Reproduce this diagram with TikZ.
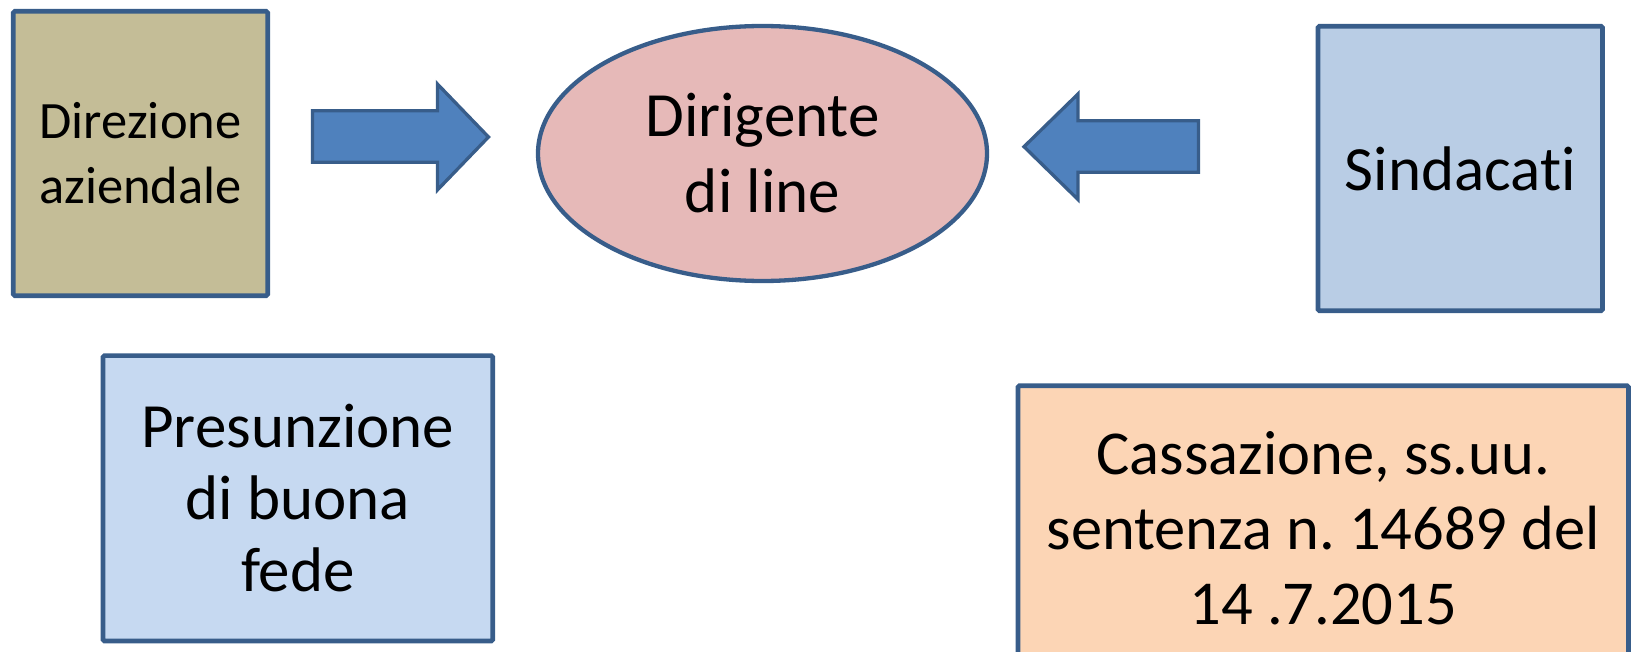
\documentclass[tikz,border=0pt]{standalone}
\usepackage{fontspec}
\setmainfont{Carlito}[Ligatures=NoCommon]
\usetikzlibrary{shapes.geometric}
\definecolor{bordc}{HTML}{385D8A}
\definecolor{arrowf}{HTML}{4F81BD}
\definecolor{tanc}{HTML}{C4BD97}
\definecolor{pinkc}{HTML}{E6B9B8}
\definecolor{sindc}{HTML}{B9CDE5}
\definecolor{presc}{HTML}{C6D9F1}
\definecolor{cassc}{HTML}{FCD5B5}
\frenchspacing
\begin{document}
\begin{tikzpicture}[x=1bp,y=-1bp,
  box/.style={draw=bordc, line width=4.7bp, rounded corners=1.5bp, inner sep=0pt, align=center, text=black},
  blockarrow/.style={draw=bordc, fill=arrowf, line width=3.3bp, line join=miter},
  bigfont/.style={font=\fontsize{63bp}{76bp}\selectfont},
]
\useasboundingbox (0,0) rectangle (1633,652);
\clip (0,0) rectangle (1633,652);

\node[box, fill=tanc, minimum width=254.4bp, minimum height=284.4bp,
      font=\fontsize{52.5bp}{65bp}\selectfont] (dir) at (140.5,153.5) {Direzione\\aziendale};

\node[box, ellipse, fill=pinkc, line width=4.3bp, minimum width=449bp, minimum height=255bp,
      bigfont] (dirig) at (762.5,153.5) {Dirigente\\di line};

\node[box, fill=sindc, minimum width=284.5bp, minimum height=284.4bp,
      bigfont] (sind) at (1460.25,168.5) {Sindacati};

\node[box, fill=presc, minimum width=389.7bp, minimum height=285.4bp,
      font=\fontsize{63bp}{72bp}\selectfont] (pres) at (297.85,498.3) {Presunzione\\di buona\\fede};

\node[box, fill=cassc, minimum width=610.5bp, minimum height=285bp,
      font=\fontsize{62.5bp}{75bp}\selectfont] (cass) at (1323.25,528.2) {Cassazione, ss.uu.\\sentenza n. 14689 del\\14 .7.2015};

% block arrow 1 (right)
\coordinate (r1) at (312.4,110.7);
\coordinate (r2) at (437.4,110.7);
\coordinate (r3) at (437.4,84);
\coordinate (r4) at (488.5,137);
\coordinate (r5) at (437.4,190);
\coordinate (r6) at (437.4,162.3);
\coordinate (r7) at (312.4,162.3);
\draw[blockarrow] (r1) -- (r2) -- (r3) -- (r4) -- (r5) -- (r6) -- (r7) -- cycle;

% block arrow 2 (left)
\coordinate (l1) at (1198.5,120.7);
\coordinate (l2) at (1078,120.7);
\coordinate (l3) at (1078,94);
\coordinate (l4) at (1024,146.7);
\coordinate (l5) at (1078,199.5);
\coordinate (l6) at (1078,172.3);
\coordinate (l7) at (1198.5,172.3);
\draw[blockarrow] (l1) -- (l2) -- (l3) -- (l4) -- (l5) -- (l6) -- (l7) -- cycle;
\end{tikzpicture}
\end{document}
